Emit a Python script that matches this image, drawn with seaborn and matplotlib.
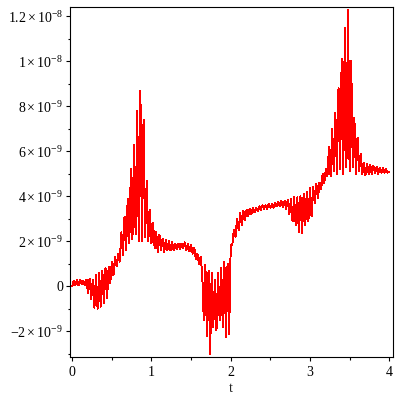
import numpy as np
import pandas as pd
import seaborn as sns
import matplotlib
matplotlib.use('Agg')
import matplotlib.pyplot as plt
from matplotlib.ticker import FixedLocator, FuncFormatter

# sample times (step 0.02) and signal values, in units of 1e-9
t = np.linspace(0, 4, 201)
v_1e9 = [
    0.00, 0.25, 0.05, 0.30, 0.05, 0.30, 0.10, 0.25, 0.05, 0.30,
    -0.30, 0.35, -0.55, 0.30, -0.95, 0.50, -1.00, 0.60, -0.90, 0.70,
    -0.75, 0.80, -0.50, 0.85, 0.15, 1.10, 0.50, 1.30, 0.90, 1.45,
    1.10, 2.40, 1.40, 3.10, 1.60, 3.90, 1.90, 5.20, 2.10, 6.30,
    2.30, 7.80, 2.00, 8.70, 2.00, 7.40, 2.20, 4.70, 2.00, 3.40,
    1.90, 2.80, 1.70, 2.40, 1.50, 2.30, 1.60, 2.10, 1.50, 2.05,
    1.60, 2.00, 1.60, 1.95, 1.60, 1.90, 1.65, 1.90, 1.65, 1.90,
    1.70, 1.95, 1.60, 1.90, 1.55, 1.85, 1.45, 1.70, 1.20, 1.45,
    1.00, 1.30, 0.60, -1.50, 0.95, -2.20, 0.70, -3.00, 0.60, -1.80,
    0.30, -1.95, 0.60, -1.50, 0.80, -1.80, 1.10, -2.25, 1.00, -2.10,
    1.85, 1.85, 2.50, 2.20, 3.00, 2.50, 3.25, 2.70, 3.35, 2.95,
    3.40, 3.10, 3.45, 3.20, 3.50, 3.30, 3.50, 3.35, 3.55, 3.40,
    3.60, 3.45, 3.60, 3.45, 3.65, 3.50, 3.65, 3.50, 3.70, 3.55,
    3.75, 3.55, 3.80, 3.50, 3.80, 3.45, 3.85, 3.20, 3.90, 2.90,
    3.95, 2.70, 3.95, 2.40, 4.00, 2.35, 4.10, 2.70, 4.20, 2.90,
    4.35, 3.10, 4.40, 3.70, 4.55, 3.90, 4.60, 4.30, 5.00, 4.60,
    5.20, 4.90, 6.20, 4.90, 7.00, 5.10, 7.70, 5.00, 8.80, 5.20,
    10.10, 5.00, 11.50, 5.30, 12.30, 5.10, 10.00, 5.30, 7.50, 5.00,
    6.60, 5.10, 5.90, 5.00, 5.50, 4.95, 5.45, 5.00, 5.40, 5.00,
    5.35, 5.05, 5.30, 5.00, 5.25, 5.05, 5.25, 5.05, 5.20, 5.05,
    5.10,
]

x_ticks = [0, 1, 2, 3, 4]
x_minor = [0.5, 1.5, 2.5, 3.5]
y_ticks = [-2e-9, 0, 2e-9, 4e-9, 6e-9, 8e-9, 1e-8, 1.2e-8]
y_minor = [-3e-9, -1e-9, 1e-9, 3e-9, 5e-9, 7e-9, 9e-9, 1.1e-8]

df = pd.DataFrame({'t': t, 'v': np.array(v_1e9) * 1e-9})

sns.set_style('ticks')
plt.rcParams['font.family'] = ['Liberation Serif', 'DejaVu Serif']
plt.rcParams['mathtext.fontset'] = 'custom'
plt.rcParams['mathtext.rm'] = 'Liberation Serif'
plt.rcParams['mathtext.it'] = 'Liberation Serif:italic'

fig = plt.figure(figsize=(4, 4), dpi=100)
ax = fig.add_axes([0.174, 0.1075, 0.808, 0.875])
sns.lineplot(data=df, x='t', y='v', ax=ax, color='#ff0000',
             linewidth=0.7, estimator=None, antialiased=False)

ax.set_xlim(-0.033, 4.045)
ax.set_ylim(-3.14e-9, 12.41e-9)


def sci(val, pos):
    if abs(val) < 1e-15:
        return '0'
    ex = -8 if abs(val) >= 1e-8 - 1e-15 else -9
    m = val / 10.0 ** ex
    ms = ('%.1f' % m).rstrip('0').rstrip('.')
    return r'$%s\times10^{%d}$' % (ms, ex)


ax.xaxis.set_major_locator(FixedLocator(x_ticks))
ax.xaxis.set_minor_locator(FixedLocator(x_minor))
ax.yaxis.set_major_locator(FixedLocator(y_ticks))
ax.yaxis.set_minor_locator(FixedLocator(y_minor))
ax.yaxis.set_major_formatter(FuncFormatter(sci))
ax.xaxis.set_major_formatter(FuncFormatter(lambda x, p: '%d' % x))

for s in ax.spines.values():
    s.set_visible(True)
    s.set_linewidth(0.8)
    s.set_color('black')

ax.tick_params(which='both', direction='out', top=False, right=False,
               colors='black', labelsize=10, width=0.8)
ax.tick_params(which='major', length=2.8, pad=2)
ax.tick_params(axis='x', which='major', pad=4)
ax.tick_params(which='minor', length=1.8)

ax.set_xlabel('t', fontsize=10, labelpad=2)
ax.set_ylabel('')

fig.savefig('out.png', dpi=100)
